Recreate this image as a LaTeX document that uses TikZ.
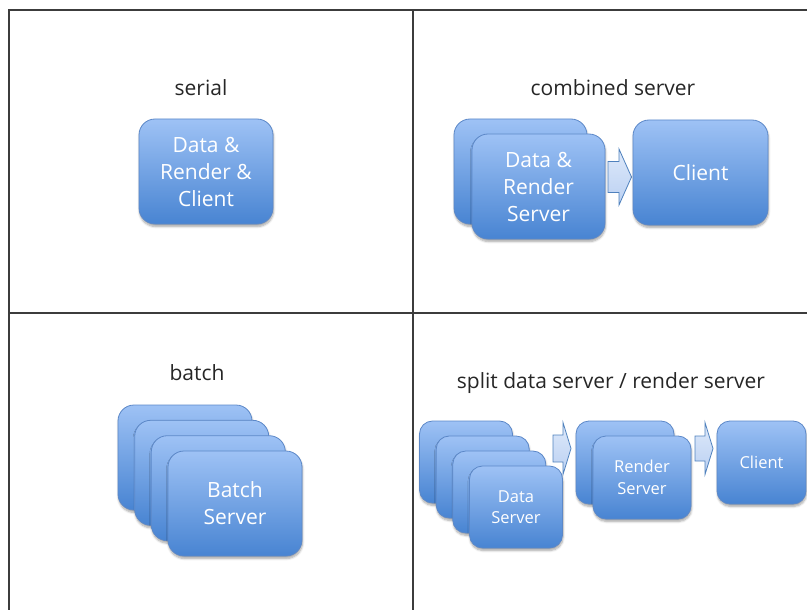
\documentclass[tikz,border=0pt]{standalone}
\usepackage{fontspec}
\setmainfont{Open Sans}
\usetikzlibrary{shadows.blur,calc}
\definecolor{boxtop}{RGB}{158,194,245}
\definecolor{boxbot}{RGB}{72,132,210}
\definecolor{boxline}{RGB}{92,136,200}
\definecolor{arrtop}{RGB}{222,233,250}
\definecolor{arrbot}{RGB}{186,208,242}
\definecolor{arrline}{RGB}{79,129,189}
\definecolor{gridline}{RGB}{60,60,60}
\tikzset{
 srv/.style={rectangle, rounded corners=16pt, draw=boxline, line width=0.8pt,
   top color=boxtop, bottom color=boxbot,
   blur shadow={shadow xshift=0.5pt, shadow yshift=-2.5pt, shadow blur steps=6, shadow opacity=35},
   text=white, align=center, font=\fontsize{21}{27}\selectfont, inner sep=0pt},
 srvsmall/.style={srv, font=\fontsize{16.5}{21.5}\selectfont, rounded corners=13pt},
 ttl/.style={font=\fontsize{21}{26}\selectfont, text=black!85, inner sep=0pt},
 gridrule/.style={draw=gridline, line width=1.3pt},
 blk/.style={draw=arrline, line width=0.8pt, top color=arrtop, bottom color=arrbot, line join=miter},
}
% name-free block arrow: tail x, tip x, head-start x, centre y, shaft half, head half
\newcommand\blockarr[6]{%
  \draw[blk] (#1,#4-#5) -- (#3,#4-#5) -- (#3,#4-#6) -- (#2,#4) -- (#3,#4+#6)
    -- (#3,#4+#5) -- (#1,#4+#5) -- cycle;}
\begin{document}
\begin{tikzpicture}[x=1pt,y=-1pt]
\useasboundingbox (0,0) rectangle (807,610);
% grid
\coordinate (tl) at (9,10);
\coordinate (tr) at (807,10);
\coordinate (bl) at (9,610);
\coordinate (mt) at (413,10);
\coordinate (mb) at (413,610);
\coordinate (ml) at (9,313);
\coordinate (mr) at (807,313);
\draw[gridrule] (tr) -- (tl) -- (bl);
\draw[gridrule] (mt) -- (mb);
\draw[gridrule] (ml) -- (mr);

% serial
\node[ttl] (tserial) at (201,88) {serial};
\node[srv, minimum width=134pt, minimum height=105pt] (serial) at (206,171.5)
  {Data \&\\Render \&\\Client};

% combined server
\node[ttl] (tcomb) at (613,88) {combined server};
\node[srv, minimum width=133pt, minimum height=105pt] (cb1) at (520.5,171.5) {};
\node[srv, minimum width=133pt, minimum height=105pt] (cb2) at (538.5,186.5)
  {Data \&\\Render\\Server};
\blockarr{608}{631.5}{619}{177}{15.5}{28}
\node[srv, minimum width=135pt, minimum height=105pt] (cclient) at (700.5,172.5) {Client};

% batch
\node[ttl] (tbatch) at (197,373) {batch};
\node[srv, minimum width=134pt, minimum height=105pt] (bb1) at (185,457.5) {};
\node[srv, minimum width=134pt, minimum height=105pt] (bb2) at (201.7,472.8) {};
\node[srv, minimum width=134pt, minimum height=105pt] (bb3) at (218.3,488.2) {};
\node[srv, minimum width=134pt, minimum height=105pt] (bb4) at (235,503.5)
  {Batch\\Server};

% split data server / render server
\node[ttl] (tsplit) at (611,383) {split data server / render server};
\node[srvsmall, minimum width=93pt, minimum height=82pt] (ds1) at (466,462) {};
\node[srvsmall, minimum width=93pt, minimum height=82pt] (ds2) at (482.7,477) {};
\node[srvsmall, minimum width=93pt, minimum height=82pt] (ds3) at (499.3,492) {};
\node[srvsmall, minimum width=93pt, minimum height=82pt] (ds4) at (516,507)
  {Data\\Server};
\blockarr{553}{571}{563}{448.5}{13.5}{26}
\node[srvsmall, minimum width=98pt, minimum height=83pt] (rs1) at (625,462.5) {};
\node[srvsmall, minimum width=98pt, minimum height=83pt] (rs2) at (642,477.5)
  {Render\\Server};
\blockarr{695}{713}{705}{448.5}{12.5}{26}
\node[srvsmall, minimum width=89pt, minimum height=83pt] (sclient) at (761.5,462.5) {Client};
\end{tikzpicture}
\end{document}
